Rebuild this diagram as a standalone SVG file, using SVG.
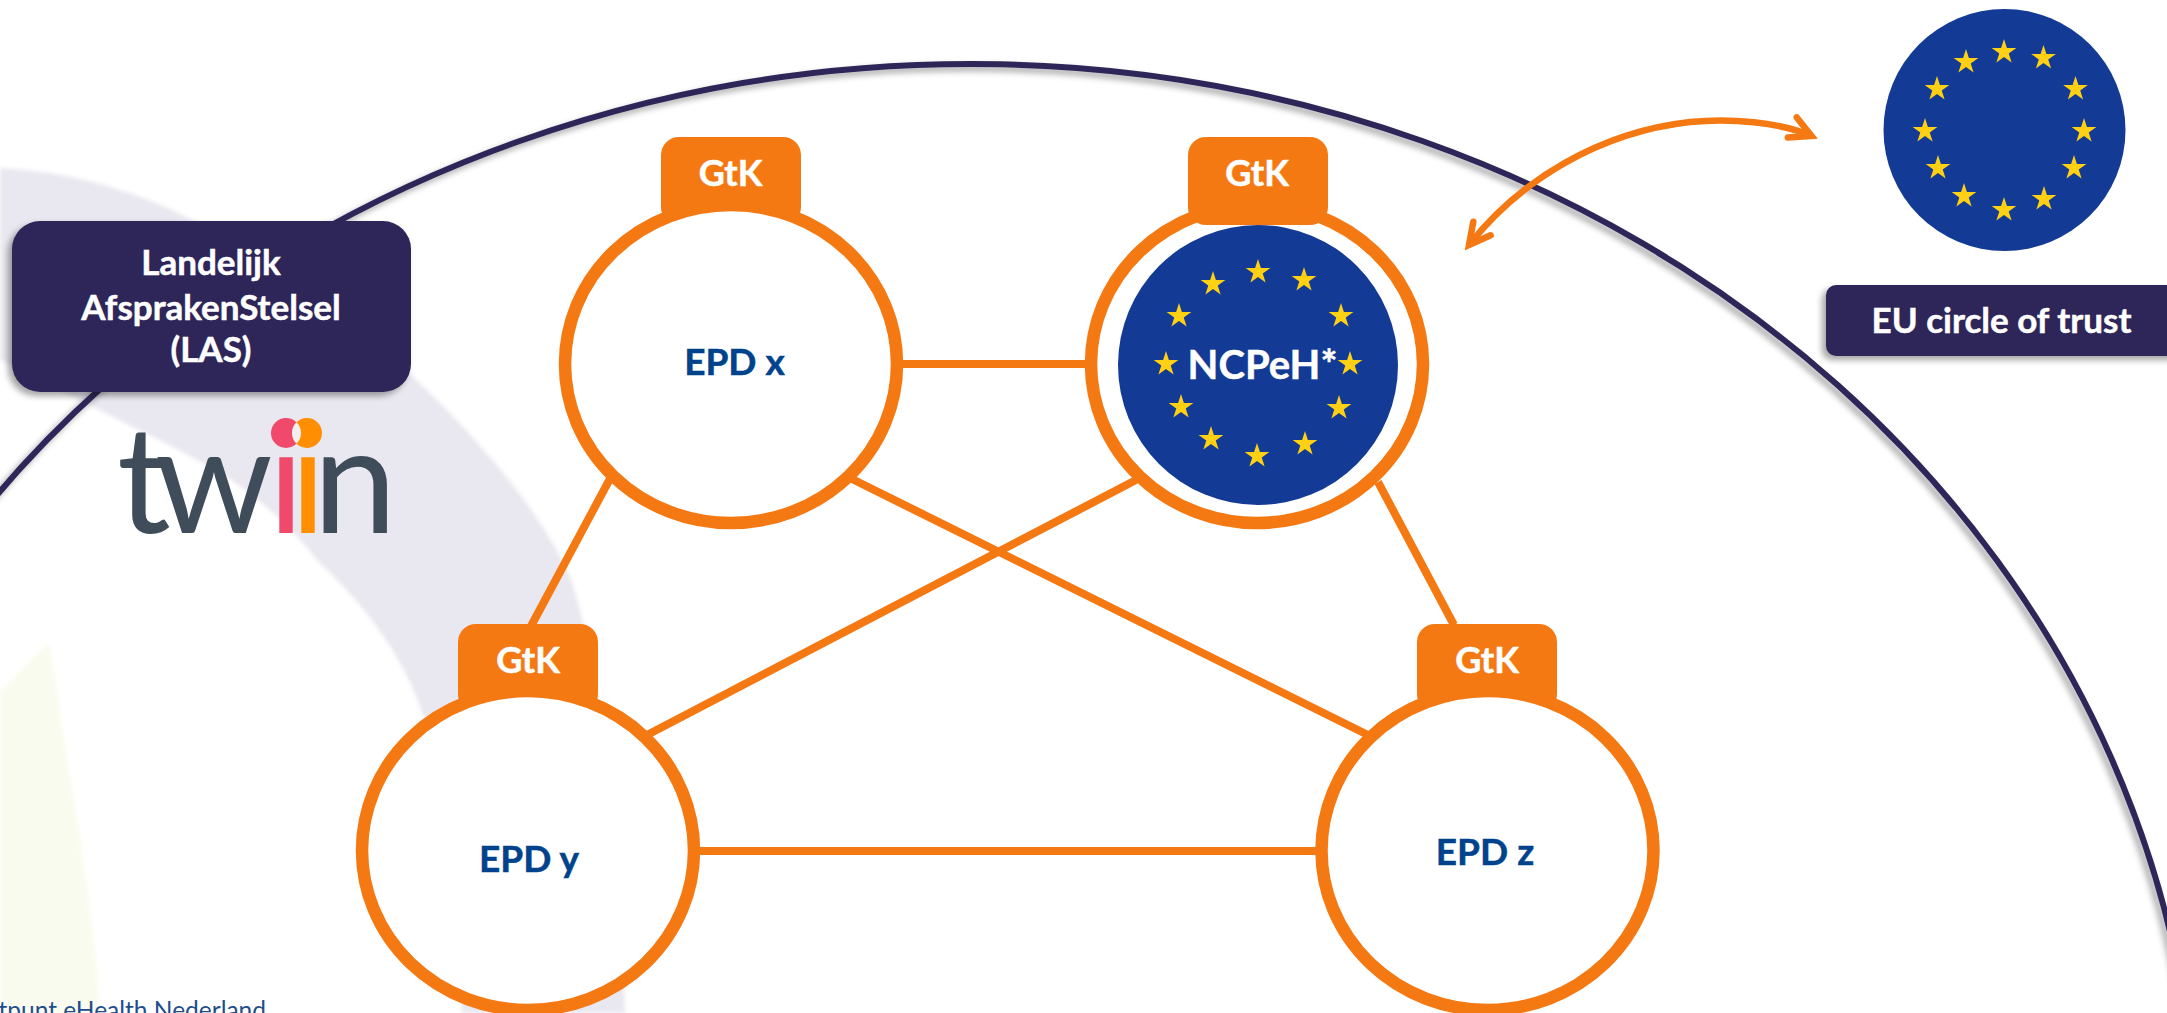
<svg xmlns="http://www.w3.org/2000/svg" xmlns:xlink="http://www.w3.org/1999/xlink" width="2167" height="1013" viewBox="0 0 2167 1013">
<style>
.f{font-family:Lato,"Noto Sans","Liberation Sans",sans-serif;font-weight:700;text-anchor:middle}
.w{fill:#fff;stroke:#fff;stroke-width:.5}
.b{fill:#00438c;stroke:#00438c;stroke-width:.5;font-size:37px}
.g{font-size:36px}
.l{font-size:35px}
.ring{fill:#fff;stroke:#f57913;stroke-width:12.5}
.tab{fill:#f57913}
.con{stroke:#f57913;stroke-width:8;fill:none}
.dark{fill:#2f2858}
.flag{fill:#133a94}
.star{fill:#ffd013}
</style>
<defs>
<filter id="sh" x="-10%" y="-10%" width="120%" height="125%"><feDropShadow dx="-4" dy="4" stdDeviation="3" flood-color="#000" flood-opacity="0.35"/></filter>
<filter id="soft" x="-10%" y="-10%" width="120%" height="120%"><feGaussianBlur stdDeviation="2"/></filter>
<polygon id="st" points="0,-13 2.92,-4.02 12.36,-4.02 4.72,1.53 7.64,10.52 0,4.97 -7.64,10.52 -4.72,1.53 -12.36,-4.02 -2.92,-4.02"/>
<marker id="ah" markerUnits="userSpaceOnUse" orient="auto-start-reverse" markerWidth="40" markerHeight="40" refX="0" refY="0" viewBox="-30 -20 40 40" overflow="visible">
<path d="M-21 -11 L0 0 L-21 11" fill="none" stroke="#f57913" stroke-width="6.5" stroke-linecap="round" stroke-linejoin="miter" stroke-miterlimit="10"/>
</marker>
</defs>
<rect width="2167" height="1013" fill="#fff"/>
<g id="background">
<path d="M0 168 C70 172 135 190 192 220 C280 262 350 310 411 375 C480 440 530 500 562 560 C590 610 615 780 625 1013 L462 1013 C455 900 445 800 424 717 C405 660 370 610 317 560 C290 525 260 500 227 477 C190 455 160 440 133 427 C90 405 40 380 0 360 Z" fill="#e9e7ef" filter="url(#soft)"/>
<path d="M0 693 C20 670 35 655 49 643 C58 690 62 730 67 760 C78 820 85 870 89 900 C95 950 98 980 100 1013 L0 1013 Z" fill="#fafbef" filter="url(#soft)"/>
<text x="266" y="1019" text-anchor="end" font-family="Lato,'Noto Sans',sans-serif" font-size="24.5" fill="#1f4e8c">tpunt eHealth Nederland</text>
</g>
<ellipse id="trust-circle" cx="971" cy="1161" rx="1226" ry="1097" fill="none" stroke="#2f2858" stroke-width="6" filter="url(#sh)"/>
<g id="connectors">
<line class="con" x1="895" y1="364" x2="1090" y2="364"/>
<line class="con" x1="612" y1="475" x2="530" y2="628"/>
<line class="con" x1="850" y1="478" x2="1368" y2="735"/>
<line class="con" x1="1136" y1="480" x2="647" y2="735"/>
<line class="con" x1="1378" y1="482" x2="1454" y2="625"/>
<line class="con" x1="695" y1="851" x2="1320" y2="851"/>
<path d="M1811.5 136 C1780 122 1730 118 1690 122 C1600 132 1520 180 1469 245" fill="none" stroke="#f57913" stroke-width="6.5" marker-start="url(#ah)" marker-end="url(#ah)"/>
</g>
<g id="node-epd-x">
<rect class="tab" x="661" y="137" width="140" height="88" rx="18"/>
<ellipse class="ring" cx="731" cy="364" rx="166" ry="159"/>
<text class="f w g" x="730.5" y="186">GtK</text>
<text class="f b" x="734.5" y="375">EPD x</text>
</g>
<g id="node-ncpeh">
<ellipse class="ring" cx="1257" cy="364" rx="166" ry="159"/>
<rect class="tab" x="1188" y="137" width="140" height="88" rx="18"/>
<circle class="flag" cx="1258" cy="365" r="140"/>
<g class="star">
<use href="#st" x="1258" y="272"/><use href="#st" x="1304" y="280"/><use href="#st" x="1341" y="316"/><use href="#st" x="1350" y="364"/><use href="#st" x="1339" y="408"/><use href="#st" x="1305" y="444"/><use href="#st" x="1257" y="456"/><use href="#st" x="1211" y="439"/><use href="#st" x="1181" y="407"/><use href="#st" x="1166" y="364"/><use href="#st" x="1179" y="316"/><use href="#st" x="1213" y="284"/>
</g>
<text class="f w g" x="1257" y="186">GtK</text>
<text class="f w" font-size="40" x="1262.5" y="379">NCPeH*</text>
</g>
<g id="node-epd-y">
<rect class="tab" x="458" y="624" width="140" height="88" rx="18"/>
<ellipse class="ring" cx="528" cy="850.5" rx="166" ry="159.5"/>
<text class="f w g" x="528" y="673">GtK</text>
<text class="f b" x="529" y="872">EPD y</text>
</g>
<g id="node-epd-z">
<rect class="tab" x="1417" y="624" width="140" height="88" rx="18"/>
<ellipse class="ring" cx="1487.5" cy="850.5" rx="166" ry="159.5"/>
<text class="f w g" x="1487" y="673">GtK</text>
<text class="f b" x="1485" y="865">EPD z</text>
</g>
<g id="node-las">
<rect class="dark" x="12" y="221" width="399" height="171" rx="28" filter="url(#sh)"/>
<text class="f w l" x="211" y="275">Landelijk</text>
<text class="f w l" x="211" y="320">AfsprakenStelsel</text>
<text class="f w l" x="211" y="362">(LAS)</text>
</g>
<g id="logo-twiin">
<text y="533" font-family="Lato,sans-serif" font-size="150" fill="#3f4c59"><tspan x="117">t</tspan><tspan x="155">w</tspan><tspan x="268" fill="#f1496b">i</tspan><tspan x="290" fill="#ff8f00">i</tspan><tspan x="313">n</tspan></text>
<circle cx="286" cy="433" r="15" fill="#f1496b"/>
<circle cx="307" cy="433" r="15" fill="#ff8f00"/>
<path d="M296.5 422.3 A15 15 0 0 1 296.5 443.7 A15 15 0 0 1 296.5 422.3 Z" fill="#f2f0f3"/>
</g>
<g id="node-eu-flag">
<circle class="flag" cx="2004.5" cy="130" r="121"/>
<g class="star">
<use href="#st" x="2004" y="52"/><use href="#st" x="2043.5" y="58"/><use href="#st" x="2075.5" y="89"/><use href="#st" x="2084" y="131"/><use href="#st" x="2074" y="168"/><use href="#st" x="2044" y="199"/><use href="#st" x="2004" y="210"/><use href="#st" x="1964" y="196"/><use href="#st" x="1938" y="168"/><use href="#st" x="1925" y="131"/><use href="#st" x="1937" y="89"/><use href="#st" x="1966" y="62"/>
</g>
</g>
<g id="node-eu-trust">
<rect class="dark" x="1826" y="285" width="380" height="71" rx="10" filter="url(#sh)"/>
<text class="f w l" x="2001.5" y="333">EU circle of trust</text>
</g>
</svg>
